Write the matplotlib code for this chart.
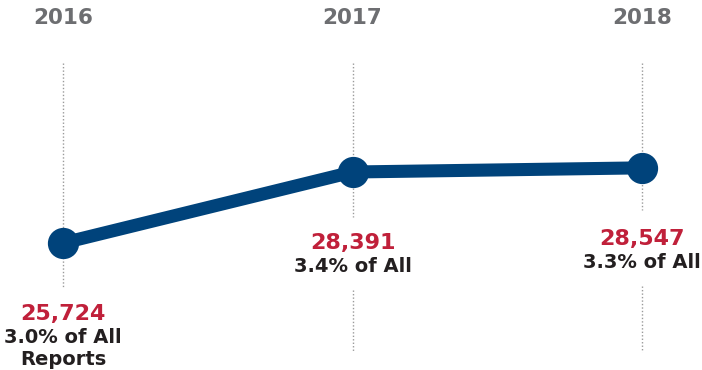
import matplotlib.pyplot as plt
from matplotlib.transforms import blended_transform_factory

years = [2016, 2017, 2018]
reports = [25724, 28391, 28547]
value_labels = ['25,724', '28,391', '28,547']
share_labels = ['3.0% of All\nReports', '3.4% of All', '3.3% of All']

navy = '#00437b'
red = '#c0203a'
dark = '#231f20'
grey = '#6d6e71'

W, H = 702, 370
fig = plt.figure(figsize=(W / 100, H / 100), dpi=100)
ax = fig.add_axes([0, 0, 1, 1])
ax.set_xlim(2015.782, 2018.207)
ax.set_ylim(20954, 34852)
ax.axis('off')

# vertical dotted guides (x in data, y in figure pixels from top)
trans = blended_transform_factory(ax.transData, ax.transAxes)
guides = {2016: [(63, 287)], 2017: [(63, 217), (290, 352)], 2018: [(63, 210), (286, 352)]}
for yr, segs in guides.items():
    for top, bot in segs:
        ax.plot([yr, yr], [1 - top / H, 1 - bot / H], transform=trans,
                color='#9a9a9a', lw=1, ls=(0, (1, 1.5)), zorder=1)

ax.plot(years, reports, color=navy, lw=9.4, marker='o', ms=21.5,
        solid_capstyle='round', zorder=3)

# year headers
for yr in years:
    ax.text(yr, 1 - 24 / H, str(yr), transform=trans, ha='center',
            va='baseline', fontsize=15.5, fontweight='bold', color=grey)

for yr, val, vl, sl in zip(years, reports, value_labels, share_labels):
    ax.annotate(vl, xy=(yr, val), xytext=(0, -77), textcoords='offset pixels',
                ha='center', va='baseline', fontsize=16, fontweight='bold',
                color=red)
    for i, line in enumerate(sl.split('\n')):
        ax.annotate(line, xy=(yr, val), xytext=(0, -100 - 22 * i),
                    textcoords='offset pixels', ha='center', va='baseline',
                    fontsize=14, fontweight='bold', color=dark)

fig.savefig('out.png', dpi=100)
